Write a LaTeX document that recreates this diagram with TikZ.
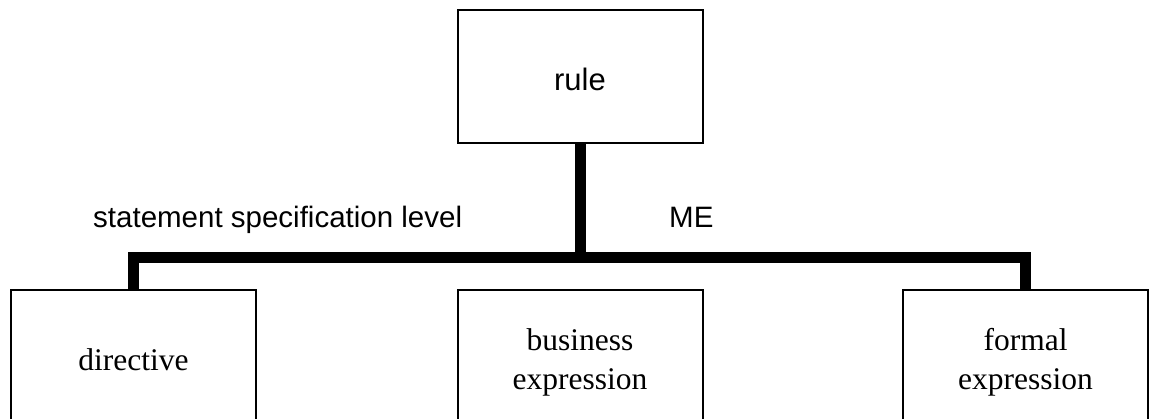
\documentclass[tikz,border=0pt]{standalone}
\usepackage{fontspec}
\setmainfont{Liberation Serif}
\newfontfamily\labelsans{Liberation Sans}
\begin{document}
\begin{tikzpicture}[x=1pt,y=-1pt,
  box/.style={draw=black,line width=2pt,inner sep=0pt,minimum width=245pt,align=center},
  topbox/.style={box,minimum height=133pt,text height=27pt,text depth=0pt,
    font=\labelsans\fontsize{31}{36}\selectfont},
  leafbox/.style={box,minimum height=140pt,font=\fontsize{31.5}{39}\selectfont},
  bar/.style={line width=11pt,line join=miter},
  tag/.style={anchor=base west,inner sep=0pt,font=\labelsans\fontsize{29.5}{36}\selectfont}]
  \useasboundingbox (0,0) rectangle (1151,418);
  \clip (0,0) rectangle (1151,418);

  % parent and the three refinements
  \node[topbox]  (rule)  at (580,76.5) {rule};
  \node[leafbox] (dir)   at (133.5,360) {directive};
  \node[leafbox,minimum height=144pt] (biz)    at (580,362) {business\\expression};
  \node[leafbox,minimum height=144pt] (formal) at (1025.5,362) {formal\\expression};

  % branching bar
  \coordinate (bus) at (580,257);
  \draw[bar] (rule.south) -- (bus);
  \draw[bar] (dir.north) |- (bus) -| (formal.north);

  % labels on the branching
  \node[tag] (lvl) at (93,227) {statement specification level};
  \node[tag] (me)  at (669,227) {ME};
\end{tikzpicture}
\end{document}
